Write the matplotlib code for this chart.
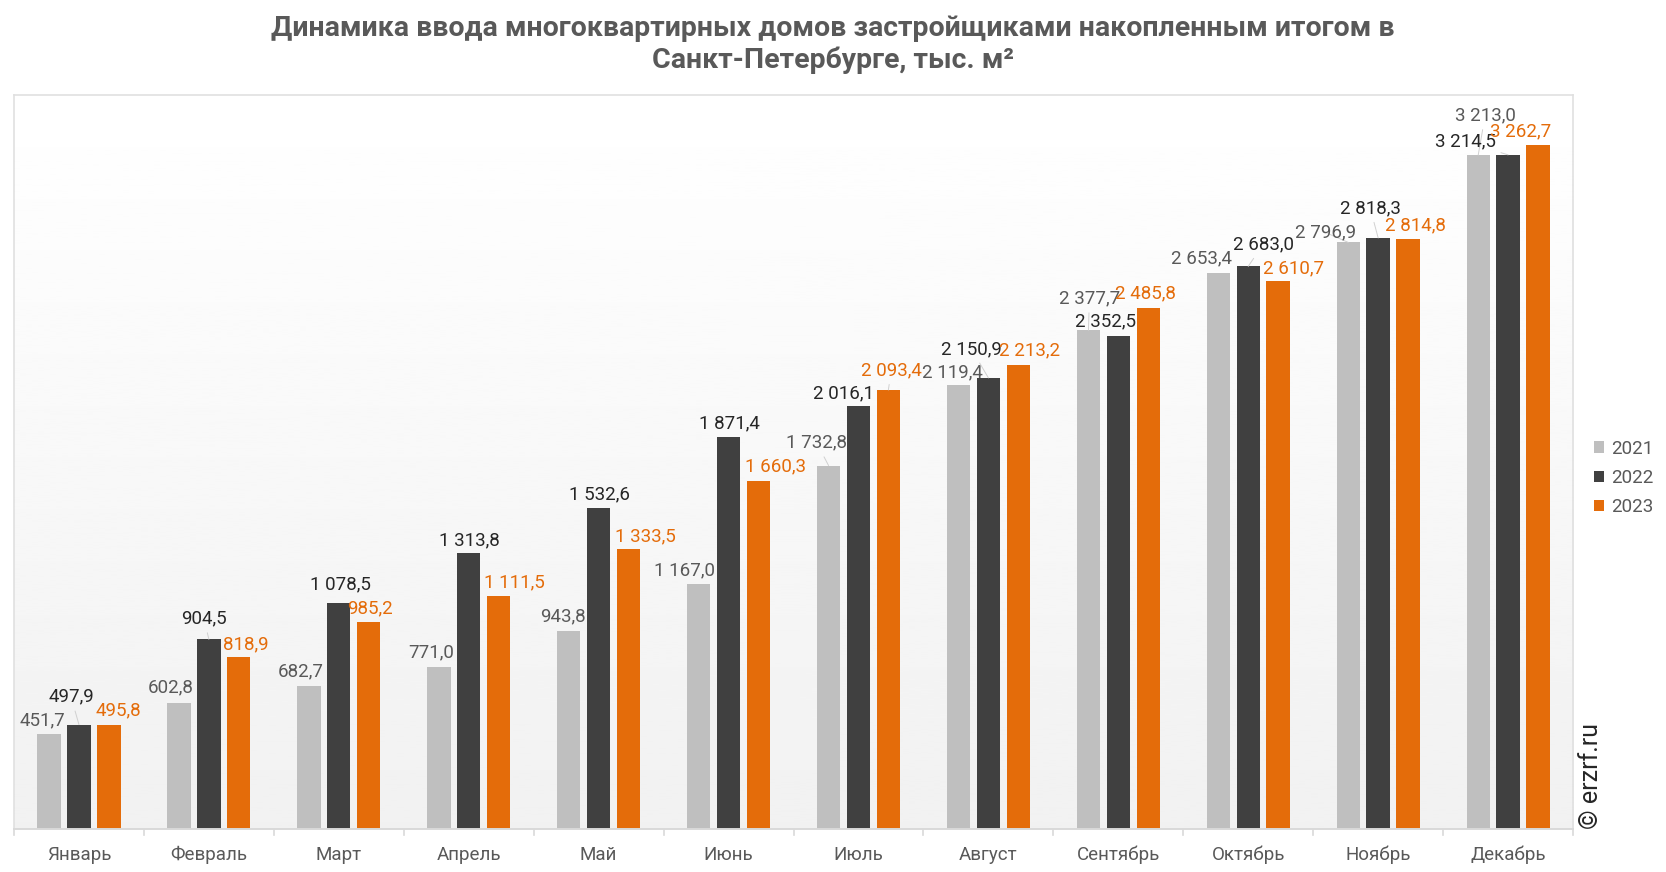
import matplotlib.pyplot as plt
import numpy as np

plt.rcParams["font.family"] = ["Roboto", "DejaVu Sans"]

months = ["Январь", "Февраль", "Март", "Апрель", "Май", "Июнь",
          "Июль", "Август", "Сентябрь", "Октябрь", "Ноябрь", "Декабрь"]
years = ["2021", "2022", "2023"]
v2021 = [451.7, 602.8, 682.7, 771.0, 943.8, 1167.0,
         1732.8, 2119.4, 2377.7, 2653.4, 2796.9, 3213.0]
v2022 = [497.9, 904.5, 1078.5, 1313.8, 1532.6, 1871.4,
         2016.1, 2150.9, 2352.5, 2683.0, 2818.3, 3214.5]
v2023 = [495.8, 818.9, 985.2, 1111.5, 1333.5, 1660.3,
         2093.4, 2213.2, 2485.8, 2610.7, 2814.8, 3262.7]

# label offsets (pixels) from the top of each bar, hand tuned like the original
off2021 = [(-7, -14), (-8, -15), (-8, -14), (-8, -15), (-6, -15), (-14, -14),
           (-12, -23), (-6, -12), (1, -32), (-17, -14), (-23, -10), (7, -40)]
off2022 = [(-8, -28), (-5, -21), (2, -18), (1, -13), (1, -13), (1, -13),
           (-15, -13), (-17, -29), (-13, -14), (15, -22), (-8, -30), (-43, -13)]
off2023 = [(10, -15), (7, -13), (1, -14), (16, -14), (17, -13), (17, -14),
           (3, -20), (11, -14), (-3, -14), (15, -13), (7, -13), (-17, -13)]

bar_colors = ["#BFBFBF", "#404040", "#E46C0A"]
label_colors = ["#595959", "#262626", "#E46C0A"]


def fmt(v):
    s = f"{v:,.1f}".replace(",", " ").replace(".", ",")
    return s


fig = plt.figure(figsize=(16.66, 8.72), dpi=100)
ax = fig.add_axes([0.0084, 0.0493, 0.9358, 0.8418])

# soft grey gradient behind the bars
grad = np.linspace(1.0, 0.945, 256).reshape(-1, 1)
ax.imshow(grad, cmap="gray", vmin=0, vmax=1, aspect="auto",
          extent=[0, 1, 0, 1], transform=ax.transAxes, zorder=0)

x = np.arange(len(months))
width = 0.18
step = 0.23
series = [v2021, v2022, v2023]
offsets = [off2021, off2022, off2023]

for k, (vals, offs) in enumerate(zip(series, offsets)):
    xs = x + (k - 1) * step
    ax.bar(xs, vals, width, color=bar_colors[k], zorder=2, label=years[k])
    for xi, v, (dx, dy) in zip(xs, vals, offs):
        far = abs(dx) > 18 or dy < -19
        ax.annotate(
            fmt(v), xy=(xi, v), xytext=(dx, -dy), textcoords="offset pixels",
            ha="center", va="center", fontsize=13.5, color=label_colors[k],
            zorder=4,
            arrowprops=dict(arrowstyle="-", color="#D0D0D0", lw=0.7,
                            shrinkA=2, shrinkB=0) if far else None,
        )

ax.set_xlim(-0.5, len(months) - 0.5)
ax.set_ylim(0, 3500)
ax.set_yticks([])
ax.set_xticks(x)
ax.set_xticklabels(months, fontsize=13.5, color="#595959")
ax.tick_params(axis="x", length=0, pad=12)
for b in np.arange(len(months) + 1) - 0.5:
    ax.plot([b, b], [0, -0.008], transform=ax.get_xaxis_transform(),
            color="#D9D9D9", lw=1.2, clip_on=False)

for side in ["top", "right", "left"]:
    ax.spines[side].set_color("#E0E0E0")
    ax.spines[side].set_linewidth(1.2)
ax.spines["bottom"].set_color("#D9D9D9")
ax.spines["bottom"].set_linewidth(1.4)

fig.text(0.5, 0.949,
         "Динамика ввода многоквартирных домов застройщиками накопленным итогом в\n"
         "Санкт-Петербурге, тыс. м²",
         ha="center", va="center", fontsize=20.5, fontweight="bold",
         color="#595959", linespacing=1.2)

leg = fig.legend(loc="center left", bbox_to_anchor=(0.952, 0.452), frameon=False,
                 fontsize=13.5, handlelength=0.55, handleheight=0.55,
                 handletextpad=0.4, labelspacing=0.6, borderaxespad=0)
for t in leg.get_texts():
    t.set_color("#595959")

fig.text(0.955, 0.11, "© erzrf.ru", rotation=90, ha="center", va="center",
         fontsize=18, color="#262626")

fig.savefig("out.png", dpi=100, facecolor="white")
